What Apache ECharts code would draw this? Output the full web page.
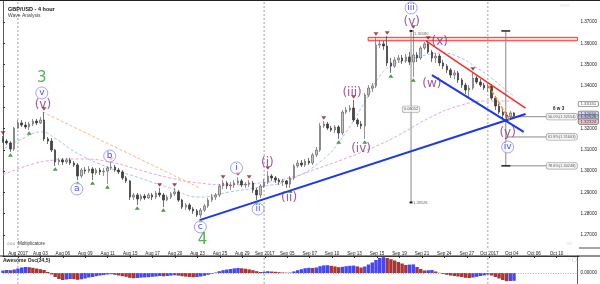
<!DOCTYPE html>
<html><head><meta charset="utf-8">
<script src="https://cdn.jsdelivr.net/npm/echarts@6/dist/echarts.min.js"></script>
<style>html,body{margin:0;padding:0;background:#fff}#c{width:600px;height:284px}</style>
</head><body><div id="c"></div><script>
// ---------------- DATA ----------------
const tickLabels = ['Aug 2017','Aug 03','Aug 06','Aug 09','Aug 11','Aug 15','Aug 17','Aug 20','Aug 23','Aug 25','Aug 29','Sep 2017','Sep 05','Sep 07','Sep 10','Sep 13','Sep 15','Sep 19','Sep 21','Sep 24','Sep 27','Oct 2017','Oct 04','Oct 06','Oct 10'];
const monthLabels = ['Aug 2017','Sep 2017','Oct 2017'];
const slotCount = 155, tickStart = 4, tickEvery = 6;
// [open, close, low, high] per 8-hour slot
const candles = [
[1.3151,1.3141,1.3132,1.3165],[1.3141,1.3132,1.3123,1.3151],[1.3132,1.3104,1.3090,1.3141],[1.3104,1.3202,1.3094,1.3207],
[1.3202,1.3226,1.3198,1.3240],[1.3226,1.3216,1.3207,1.3240],[1.3216,1.3207,1.3198,1.3231],[1.3207,1.3221,1.3193,1.3231],
[1.3221,1.3235,1.3212,1.3245],[1.3235,1.3226,1.3216,1.3245],[1.3226,1.3240,1.3221,1.3254],[1.3240,1.3151,1.3141,1.3277],
[1.3151,1.3141,1.3127,1.3160],[1.3141,1.3099,1.3090,1.3155],[1.3099,1.3043,1.3024,1.3104],[1.3043,1.3052,1.3029,1.3062],
[1.3052,1.3043,1.3029,1.3062],[1.3043,1.3052,1.3033,1.3062],[1.3052,1.3038,1.3029,1.3062],[1.3038,1.3029,1.3019,1.3047],
[1.3029,1.2977,1.2958,1.3038],[1.2977,1.3005,1.2968,1.3015],[1.3005,1.3000,1.2986,1.3019],[1.3000,1.3010,1.2991,1.3024],
[1.3010,1.2991,1.2958,1.3019],[1.2991,1.3005,1.2982,1.3015],[1.3005,1.2996,1.2982,1.3015],[1.2996,1.3000,1.2977,1.3015],
[1.3000,1.3015,1.2939,1.3024],[1.3015,1.3019,1.3005,1.3043],[1.3019,1.3005,1.2996,1.3029],[1.3005,1.2996,1.2986,1.3015],
[1.2996,1.2968,1.2958,1.3005],[1.2968,1.2954,1.2944,1.2977],[1.2954,1.2878,1.2864,1.2958],[1.2878,1.2888,1.2864,1.2897],
[1.2888,1.2869,1.2841,1.2897],[1.2869,1.2883,1.2860,1.2893],[1.2883,1.2874,1.2864,1.2893],[1.2874,1.2888,1.2869,1.2897],
[1.2888,1.2878,1.2864,1.2897],[1.2878,1.2897,1.2869,1.2907],[1.2897,1.2888,1.2878,1.2921],[1.2888,1.2864,1.2831,1.2897],
[1.2864,1.2878,1.2860,1.2888],[1.2878,1.2893,1.2869,1.2902],[1.2893,1.2902,1.2883,1.2921],[1.2902,1.2864,1.2855,1.2911],
[1.2864,1.2831,1.2822,1.2869],[1.2831,1.2841,1.2817,1.2850],[1.2841,1.2822,1.2813,1.2850],[1.2822,1.2813,1.2799,1.2831],
[1.2813,1.2794,1.2785,1.2822],[1.2794,1.2817,1.2780,1.2827],[1.2817,1.2836,1.2808,1.2846],[1.2836,1.2864,1.2827,1.2874],
[1.2864,1.2878,1.2855,1.2893],[1.2878,1.2888,1.2864,1.2897],[1.2888,1.2930,1.2878,1.2939],[1.2930,1.2944,1.2916,1.2958],
[1.2944,1.2930,1.2916,1.2954],[1.2930,1.2935,1.2911,1.2949],[1.2935,1.2944,1.2921,1.2958],[1.2944,1.2954,1.2935,1.2972],
[1.2954,1.2935,1.2925,1.2963],[1.2935,1.2939,1.2921,1.2949],[1.2939,1.2944,1.2925,1.2958],[1.2944,1.2911,1.2897,1.2954],
[1.2911,1.2888,1.2864,1.2921],[1.2888,1.2930,1.2874,1.2939],[1.2930,1.2949,1.2921,1.2963],[1.2949,1.2977,1.2939,1.3000],
[1.2977,1.2968,1.2954,1.2986],[1.2968,1.2958,1.2944,1.2977],[1.2958,1.2949,1.2935,1.2968],[1.2949,1.2954,1.2930,1.2963],
[1.2954,1.2939,1.2921,1.2958],[1.2939,1.2968,1.2921,1.2977],[1.2968,1.3024,1.2958,1.3033],[1.3024,1.3038,1.3015,1.3052],
[1.3038,1.3029,1.3019,1.3052],[1.3029,1.3047,1.3019,1.3057],[1.3047,1.3038,1.3029,1.3062],[1.3038,1.3076,1.3029,1.3085],
[1.3076,1.3099,1.3066,1.3113],[1.3099,1.3212,1.3090,1.3226],[1.3212,1.3221,1.3202,1.3235],[1.3221,1.3202,1.3193,1.3231],
[1.3202,1.3193,1.3184,1.3212],[1.3193,1.3207,1.3179,1.3216],[1.3207,1.3179,1.3151,1.3216],[1.3179,1.3277,1.3169,1.3287],
[1.3277,1.3287,1.3268,1.3301],[1.3287,1.3296,1.3277,1.3310],[1.3296,1.3240,1.3231,1.3334],[1.3240,1.3221,1.3207,1.3249],
[1.3221,1.3212,1.3198,1.3235],[1.3212,1.3357,1.3151,1.3367],[1.3357,1.3390,1.3348,1.3404],[1.3390,1.3400,1.3371,1.3414],
[1.3400,1.3592,1.3390,1.3630],[1.3592,1.3597,1.3578,1.3615],[1.3597,1.3587,1.3569,1.3611],[1.3587,1.3508,1.3493,1.3634],
[1.3508,1.3493,1.3461,1.3531],[1.3493,1.3522,1.3484,1.3536],[1.3522,1.3531,1.3508,1.3545],[1.3531,1.3517,1.3503,1.3545],
[1.3517,1.3536,1.3508,1.3550],[1.3536,1.3512,1.3498,1.3559],[1.3512,1.3545,1.3442,1.3662],[1.3545,1.3531,1.3512,1.3559],
[1.3531,1.3578,1.3522,1.3587],[1.3578,1.3597,1.3569,1.3606],[1.3597,1.3559,1.3550,1.3611],[1.3559,1.3531,1.3512,1.3569],
[1.3531,1.3540,1.3508,1.3554],[1.3540,1.3508,1.3493,1.3550],[1.3508,1.3493,1.3479,1.3522],[1.3493,1.3475,1.3461,1.3503],
[1.3475,1.3451,1.3437,1.3484],[1.3451,1.3461,1.3432,1.3475],[1.3461,1.3428,1.3414,1.3470],[1.3428,1.3404,1.3390,1.3437],
[1.3404,1.3381,1.3362,1.3414],[1.3381,1.3390,1.3348,1.3404],[1.3390,1.3437,1.3381,1.3465],[1.3437,1.3418,1.3409,1.3446],
[1.3418,1.3404,1.3395,1.3432],[1.3404,1.3390,1.3381,1.3414],[1.3390,1.3400,1.3371,1.3409],[1.3400,1.3343,1.3334,1.3409],
[1.3343,1.3306,1.3287,1.3353],[1.3306,1.3277,1.3268,1.3315],[1.3277,1.3263,1.3245,1.3287],[1.3263,1.3254,1.3231,1.3277],
[1.3254,1.3273,1.3240,1.3282],[1.3273,1.3259,1.3249,1.3277]
];
// Awesome Oscillator (x 0.001) per slot
const aoValues = [
2.5,3.0,2.8,3.5,4.5,5.5,6.0,5.8,5.2,4.5,3.8,3.0,1.0,-1.5,-4.0,-6.0,-7.0,-6.5,-6.0,-6.2,
-6.8,-6.3,-5.5,-4.5,-4.0,-3.2,-2.5,-2.0,-1.5,-1.2,-1.8,-2.5,-3.2,-3.8,-4.8,-5.2,-5.0,-4.6,-4.4,-4.1,
-3.8,-3.5,-3.0,-3.3,-3.0,-2.6,-2.2,-2.6,-3.2,-3.6,-3.9,-4.2,-4.0,-3.5,-2.8,-1.8,-0.8,0.5,1.8,2.8,
3.5,4.0,4.6,5.0,4.7,4.2,3.6,2.8,1.8,1.0,1.2,1.8,1.5,1.2,0.8,0.5,0.3,0.4,1.6,2.8,
3.8,4.8,5.2,5.0,5.5,6.8,7.6,7.8,7.2,6.6,5.8,6.2,6.8,7.2,7.4,6.6,5.5,6.5,8.5,10.5,
13.0,15.0,15.8,15.0,13.8,12.5,11.0,9.5,8.0,8.4,8.6,6.0,4.0,2.5,2.8,3.0,1.5,0.2,-1.0,-1.8,
-2.5,-3.0,-3.5,-4.0,-4.8,-5.0,-4.5,-3.8,-3.0,-2.4,-1.5,-2.5,-4.0,-5.5,-7.0,-8.2,-8.0,-7.8
];
// moving averages: [slot, price]
const maFast = [[0.5,1.3108],[4.5,1.3146],[10.4,1.3184],[13.9,1.3155],[19.8,1.3085],[28.6,1.3015],[36.6,1.2968],[44.7,1.2921],[52.7,1.2878],[60.7,1.2902],[68.7,1.2925],[76.7,1.2958],[85.6,1.3052],[91.4,1.3169],[97.3,1.3334],[100.8,1.3442],[104.3,1.3498],[108.8,1.3522],[113.4,1.3545],[117.6,1.3554],[122.2,1.3536],[126.7,1.3489],[131.0,1.3437],[134.8,1.3381],[136.9,1.3353]];
const maSlow = [[0,1.2982],[7.2,1.3029],[13.9,1.3052],[20.6,1.3057],[28.6,1.3043],[36.6,1.3005],[44.7,1.2968],[52.7,1.2944],[60.7,1.2935],[68.7,1.2944],[76.7,1.2968],[84.8,1.3015],[92.8,1.3066],[100.8,1.3123],[106.1,1.3169],[114.2,1.3249],[122.2,1.3306],[130.2,1.3329],[136.9,1.3329]];
const maMid = [[10.7,1.3277],[52.7,1.2921]];
// trend lines: [slot, price]
const upTrend = [[52.7,1.2770],[140.1,1.3268]];
const channelTop = [[113.4,1.3611],[140.1,1.3296]];
const channelBottom = [[115.0,1.3451],[139.6,1.3184]];
const orangeLine = [[130.2,1.3400],[136.1,1.3231]];
const resistance = [1.3612, 1.3628];
const resistanceStart = 97.9;
// fractals (slot indices)
const fractalHighs = [0,11,29,42,46,59,63,66,71,86,94,100,103,110,114,126];
const fractalLows = [2,7,14,20,24,28,36,43,53,68,77,90,97,104,110];
// measurement & fibonacci
const swingHigh = 1.36580, swingLow = 1.28528;
const measureSlotA = 109.4, measureSlotB = 134.8, fibEndSlot = 145.7;
const fibLevels = [['50.0%',1.32554],['61.8%',1.31603],['78.6%',1.30248]];
// wave labels: [text, slot, price]
const waveCircled = [['v',10.4,1.3367],['a',19.8,1.2916],['b',28.6,1.3071],['c',52.9,1.2738],['i',62.6,1.3015],['ii',68.4,1.2822],['iii',109.4,1.3766],['iv',135.3,1.3113]];
const wavePurple = [['(v)',10.7,1.3310],['(i)',70.9,1.3038],['(ii)',76.7,1.2874],['(iii)',93.6,1.3367],['(iv)',96.0,1.3104],['(v)',109.6,1.3700],['(x)',117.1,1.3606],['(w)',115.0,1.3409],['(y)',135.3,1.3179]];
const waveGreen = [['3',10.4,1.3437],['4',53.5,1.2677]];
// price boxes on right axis
const priceBoxes = [['1.33151',1.33151,'#ffffff'],['1.32650',1.32690,'#c9d6f5'],['1.32526',1.32526,'#b9b9e6'],['1.32324',1.32324,'#f2b8b8']];

// ---------------- BUILD ----------------
const categories = Array.from({length: slotCount}, () => '');
tickLabels.forEach((t, j) => { categories[tickStart + j * tickEvery] = t; });
const monthSlots = monthLabels.map(m => categories.indexOf(m));
const GL = 3, GW = 576;
const yMin = 1.26, yMax = 1.38, panelBottomPrice = 1.2639;
const aoMin = -11, aoMax = 17;
const fs = 5;
const isLbl = (i, v) => v !== '';

const series = [];
series.push({type:'candlestick', xAxisIndex:0, yAxisIndex:0, data: candles, barWidth: 2,
  itemStyle:{color:'#c4c4c4', color0:'#444444', borderColor:'#666666', borderColor0:'#333333', borderWidth:0.7}, z:3});
const dashLine = (data, color, w) => ({type:'line', xAxisIndex:1, yAxisIndex:0, data, smooth:true, symbol:'none',
  lineStyle:{color, width:w||1, type:[3,2]}, z:2, silent:true});
series.push(dashLine(maFast, '#a9c2f2'));
series.push(dashLine(maSlow, '#e2a6e2'));
series.push(dashLine(maMid, '#f5b88a'));
// month separators
monthSlots.forEach(s => {
  series.push({type:'line', xAxisIndex:1, yAxisIndex:0, data:[[s,panelBottomPrice],[s,yMax]], symbol:'none', lineStyle:{color:'#888', width:0.8, type:[2,2]}, z:1, silent:true});
  series.push({type:'line', xAxisIndex:3, yAxisIndex:2, data:[[s,aoMin],[s,aoMax]], symbol:'none', lineStyle:{color:'#888', width:0.8, type:[2,2]}, z:1, silent:true});
});
// resistance band
series.push({type:'line', xAxisIndex:1, yAxisIndex:0, data:[], silent:true,
  markArea:{silent:true, itemStyle:{color:'rgba(255,170,170,0.45)', borderColor:'#ff3030', borderWidth:1},
    data:[[{coord:[resistanceStart, resistance[1]]},{coord:[slotCount-1, resistance[0]]}]]}});
// trend lines
const solid = (data, color, w, dashed) => ({type:'line', xAxisIndex:1, yAxisIndex:0, data, symbol:'none',
  lineStyle:{color, width:w, type: dashed ? [4,2] : 'solid'}, z:5, silent:true});
series.push(solid(upTrend, '#1b37f0', 2));
series.push(solid(channelTop, '#ff2a2a', 1.5));
series.push(solid(channelBottom, '#1b37f0', 2));
series.push(solid(orangeLine, '#ff8a1c', 1.5, true));
// measurement lines
series.push({type:'line', xAxisIndex:1, yAxisIndex:0, data:[[measureSlotA, swingHigh],[measureSlotA, swingLow]], symbol:'rect', symbolSize:[3,2],
  itemStyle:{color:'#222'}, lineStyle:{color:'#8a8a8a', width:1}, z:4, silent:true});
series.push({type:'line', xAxisIndex:1, yAxisIndex:0, data:[[measureSlotB, swingHigh],[measureSlotB, fibLevels[2][1]]], symbol:'rect', symbolSize:[9,1.5],
  itemStyle:{color:'#222'}, lineStyle:{color:'#8a8a8a', width:1}, z:4, silent:true});
const smallBox = {fontSize:3.9, color:'#333', backgroundColor:'#f4f4f4', borderColor:'#888', borderWidth:0.6, borderRadius:2, padding:[1,1.5]};
series.push({type:'scatter', xAxisIndex:1, yAxisIndex:0, symbolSize:0, silent:true, z:8,
  data:[
    {value:[measureSlotA, swingHigh], label:{show:true, position:'right', distance:3, offset:[0,3], fontSize:4, color:'#444', formatter: swingHigh.toFixed(5)}},
    {value:[measureSlotA, swingLow], label:{show:true, position:'right', distance:2, fontSize:4, color:'#444', formatter: swingLow.toFixed(5)}},
    {value:[measureSlotA, (swingHigh+swingLow)/2 + 0.0035], label:Object.assign({show:true, position:'inside', formatter:(swingHigh-swingLow).toFixed(5)}, smallBox)}
  ]});
// fib lines & labels
fibLevels.forEach(([p, v]) => {
  series.push({type:'line', xAxisIndex:1, yAxisIndex:0, data:[[measureSlotB, v],[fibEndSlot, v]], symbol:'none', lineStyle:{color:'#8a8a8a', width:1}, z:4, silent:true});
  series.push({type:'scatter', xAxisIndex:1, yAxisIndex:0, symbolSize:0, silent:true, z:8,
    data:[{value:[fibEndSlot, v], label:Object.assign({show:true, position:'right', distance:0, formatter:p + '(' + v.toFixed(5) + ')'}, smallBox)}]});
});
// fractal markers
series.push({type:'scatter', xAxisIndex:0, yAxisIndex:0, symbol:'triangle', symbolRotate:180, symbolSize:[5,3.5], symbolOffset:[0,-3],
  itemStyle:{color:'#8e1d1d'}, data: fractalHighs.map(i => [i, candles[i][3]]), z:6, silent:true});
series.push({type:'scatter', xAxisIndex:0, yAxisIndex:0, symbol:'triangle', symbolSize:[5,3.5], symbolOffset:[0,3],
  itemStyle:{color:'#1f7f1f'}, data: fractalLows.map(i => [i, candles[i][2]]), z:6, silent:true});
// wave labels
series.push({type:'scatter', xAxisIndex:1, yAxisIndex:0, symbol:'circle', symbolSize:12, z:9, silent:true,
  itemStyle:{color:'rgba(255,255,255,0.9)', borderColor:'#8a8cff', borderWidth:1},
  label:{show:true, position:'inside', color:'#2020ff', fontSize:9, fontFamily:'DejaVu Sans', formatter: p => p.data[2]},
  data: waveCircled.map(([t,s,v]) => [s, v, t])});
series.push({type:'scatter', xAxisIndex:1, yAxisIndex:0, symbolSize:0, z:9, silent:true,
  label:{show:true, position:'inside', color:'#862a86', fontSize:12, fontFamily:'DejaVu Sans', formatter: p => p.data[2]},
  data: wavePurple.map(([t,s,v]) => [s, v, t])});
series.push({type:'scatter', xAxisIndex:1, yAxisIndex:0, symbolSize:0, z:9, silent:true,
  label:{show:true, position:'inside', color:'#2e9a2e', fontSize:15, fontFamily:'DejaVu Sans', formatter: p => p.data[2]},
  data: waveGreen.map(([t,s,v]) => [s, v, t])});
// price boxes
series.push({type:'scatter', xAxisIndex:1, yAxisIndex:0, symbolSize:0, z:10, silent:true,
  data: priceBoxes.map(([t,v,c]) => ({value:[slotCount-1, v], label:{show:true, position:'right', distance:1, fontSize:4.4, color:'#222',
    backgroundColor:c, borderColor:'#444', borderWidth:0.6, borderRadius:1.5, padding:[0.5,2], formatter:t}}))});
// AO histogram
series.push({type:'bar', xAxisIndex:3, yAxisIndex:2, barWidth:3.4,
  data: aoValues.map((v,i) => ({value:v, itemStyle:{color: (i===0 || v >= aoValues[i-1]) ? '#4646f5' : '#a83434'}})),
  markLine:{silent:true, symbol:'none', label:{show:false}, lineStyle:{color:'#999', type:[1,1.5], width:0.8}, data:[{yAxis:0}]}});

const option = {
  animation:false,
  backgroundColor:'#ffffff',
  textStyle:{fontFamily:'Liberation Sans, Arial, sans-serif'},
  title:{text:'GBP/USD - 4 hour', subtext:'Wave Analysis', left:3, top:1, itemGap:1,
    textStyle:{fontSize:5.5, fontWeight:'bold', color:'#111'}, subtextStyle:{fontSize:5, color:'#444'}},
  grid:[
    {left:GL, width:GW, top:0.7, height:255.6},
    {left:GL, width:GW, top:248, height:8},
    {left:GL, width:GW, top:256, height:28}
  ],
  xAxis:[
    {type:'category', gridIndex:0, data:categories, boundaryGap:false, show:false},
    {type:'value', gridIndex:0, min:0, max:slotCount-1, show:false},
    {type:'category', gridIndex:1, data:categories, boundaryGap:false, position:'top', z:10,
      axisLine:{lineStyle:{color:'#222', width:0.8}},
      axisTick:{inside:true, length:2, interval:isLbl, lineStyle:{color:'#333'}},
      axisLabel:{inside:true, interval:isLbl, fontSize:4.6, color:'#222', margin:3, verticalAlign:'top'},
      splitLine:{show:false}},
    {type:'category', gridIndex:2, data:categories, boundaryGap:false, show:false}
  ],
  yAxis:[
    {type:'value', gridIndex:0, position:'right', min:yMin, max:yMax, interval:0.01,
      axisLine:{show:true, lineStyle:{color:'#333', width:0.8}},
      axisTick:{show:true, length:2, lineStyle:{color:'#333'}},
      minorTick:{show:true, splitNumber:5, length:1, lineStyle:{color:'#555'}},
      splitLine:{show:false},
      axisLabel:{fontSize:4.6, color:'#222', margin:3, formatter: v => { const k = Math.round(v*100); return (k < 127 || k > 137 || k === 133) ? '' : v.toFixed(5); }}},
    {type:'value', gridIndex:1, show:false, min:0, max:1},
    {type:'value', gridIndex:2, position:'right', min:aoMin, max:aoMax, interval:1,
      axisLine:{show:true, lineStyle:{color:'#333', width:0.8}},
      axisTick:{show:false}, splitLine:{show:false},
      axisLabel:{fontSize:4.6, color:'#222', margin:3, formatter: v => v === 0 ? '0.00000' : ''}}
  ],
  graphic:[
    {type:'line', shape:{x1:0, y1:0.5, x2:600, y2:0.5}, style:{stroke:'#222', lineWidth:1}, z:20},
    {type:'line', shape:{x1:0, y1:256, x2:600, y2:256}, style:{stroke:'#222', lineWidth:1}, z:20},
    {type:'line', shape:{x1:579, y1:248, x2:600, y2:248}, style:{stroke:'#222', lineWidth:0.8}, z:20},
    {type:'text', left:7, top:241, style:{text:'○○○  Moltiplicatore', fontSize:4.6, fill:'#333'}, z:20},
    {type:'text', left:3, top:258, style:{text:'Awesome Osc(34,5)', fontSize:5, fontWeight:'bold', fill:'#222'}, z:20},
    {type:'text', left:560, top:3, style:{text:'○○○', fontSize:5, fill:'#999'}, z:20},
    {type:'text', left:566, top:241, style:{text:'○○', fontSize:5, fill:'#999'}, z:20},
    {type:'text', left:568, top:257, style:{text:'○ ▢', fontSize:5, fill:'#999'}, z:20},
    {type:'text', left:553, top:106, style:{text:'6 w 3', fontSize:4.6, fontWeight:'bold', fill:'#222'}, z:20}
  ],
  series
};
const chart = echarts.init(document.getElementById('c'), null, {renderer:'canvas', width:600, height:284});
chart.setOption(option);
</script></body></html>
